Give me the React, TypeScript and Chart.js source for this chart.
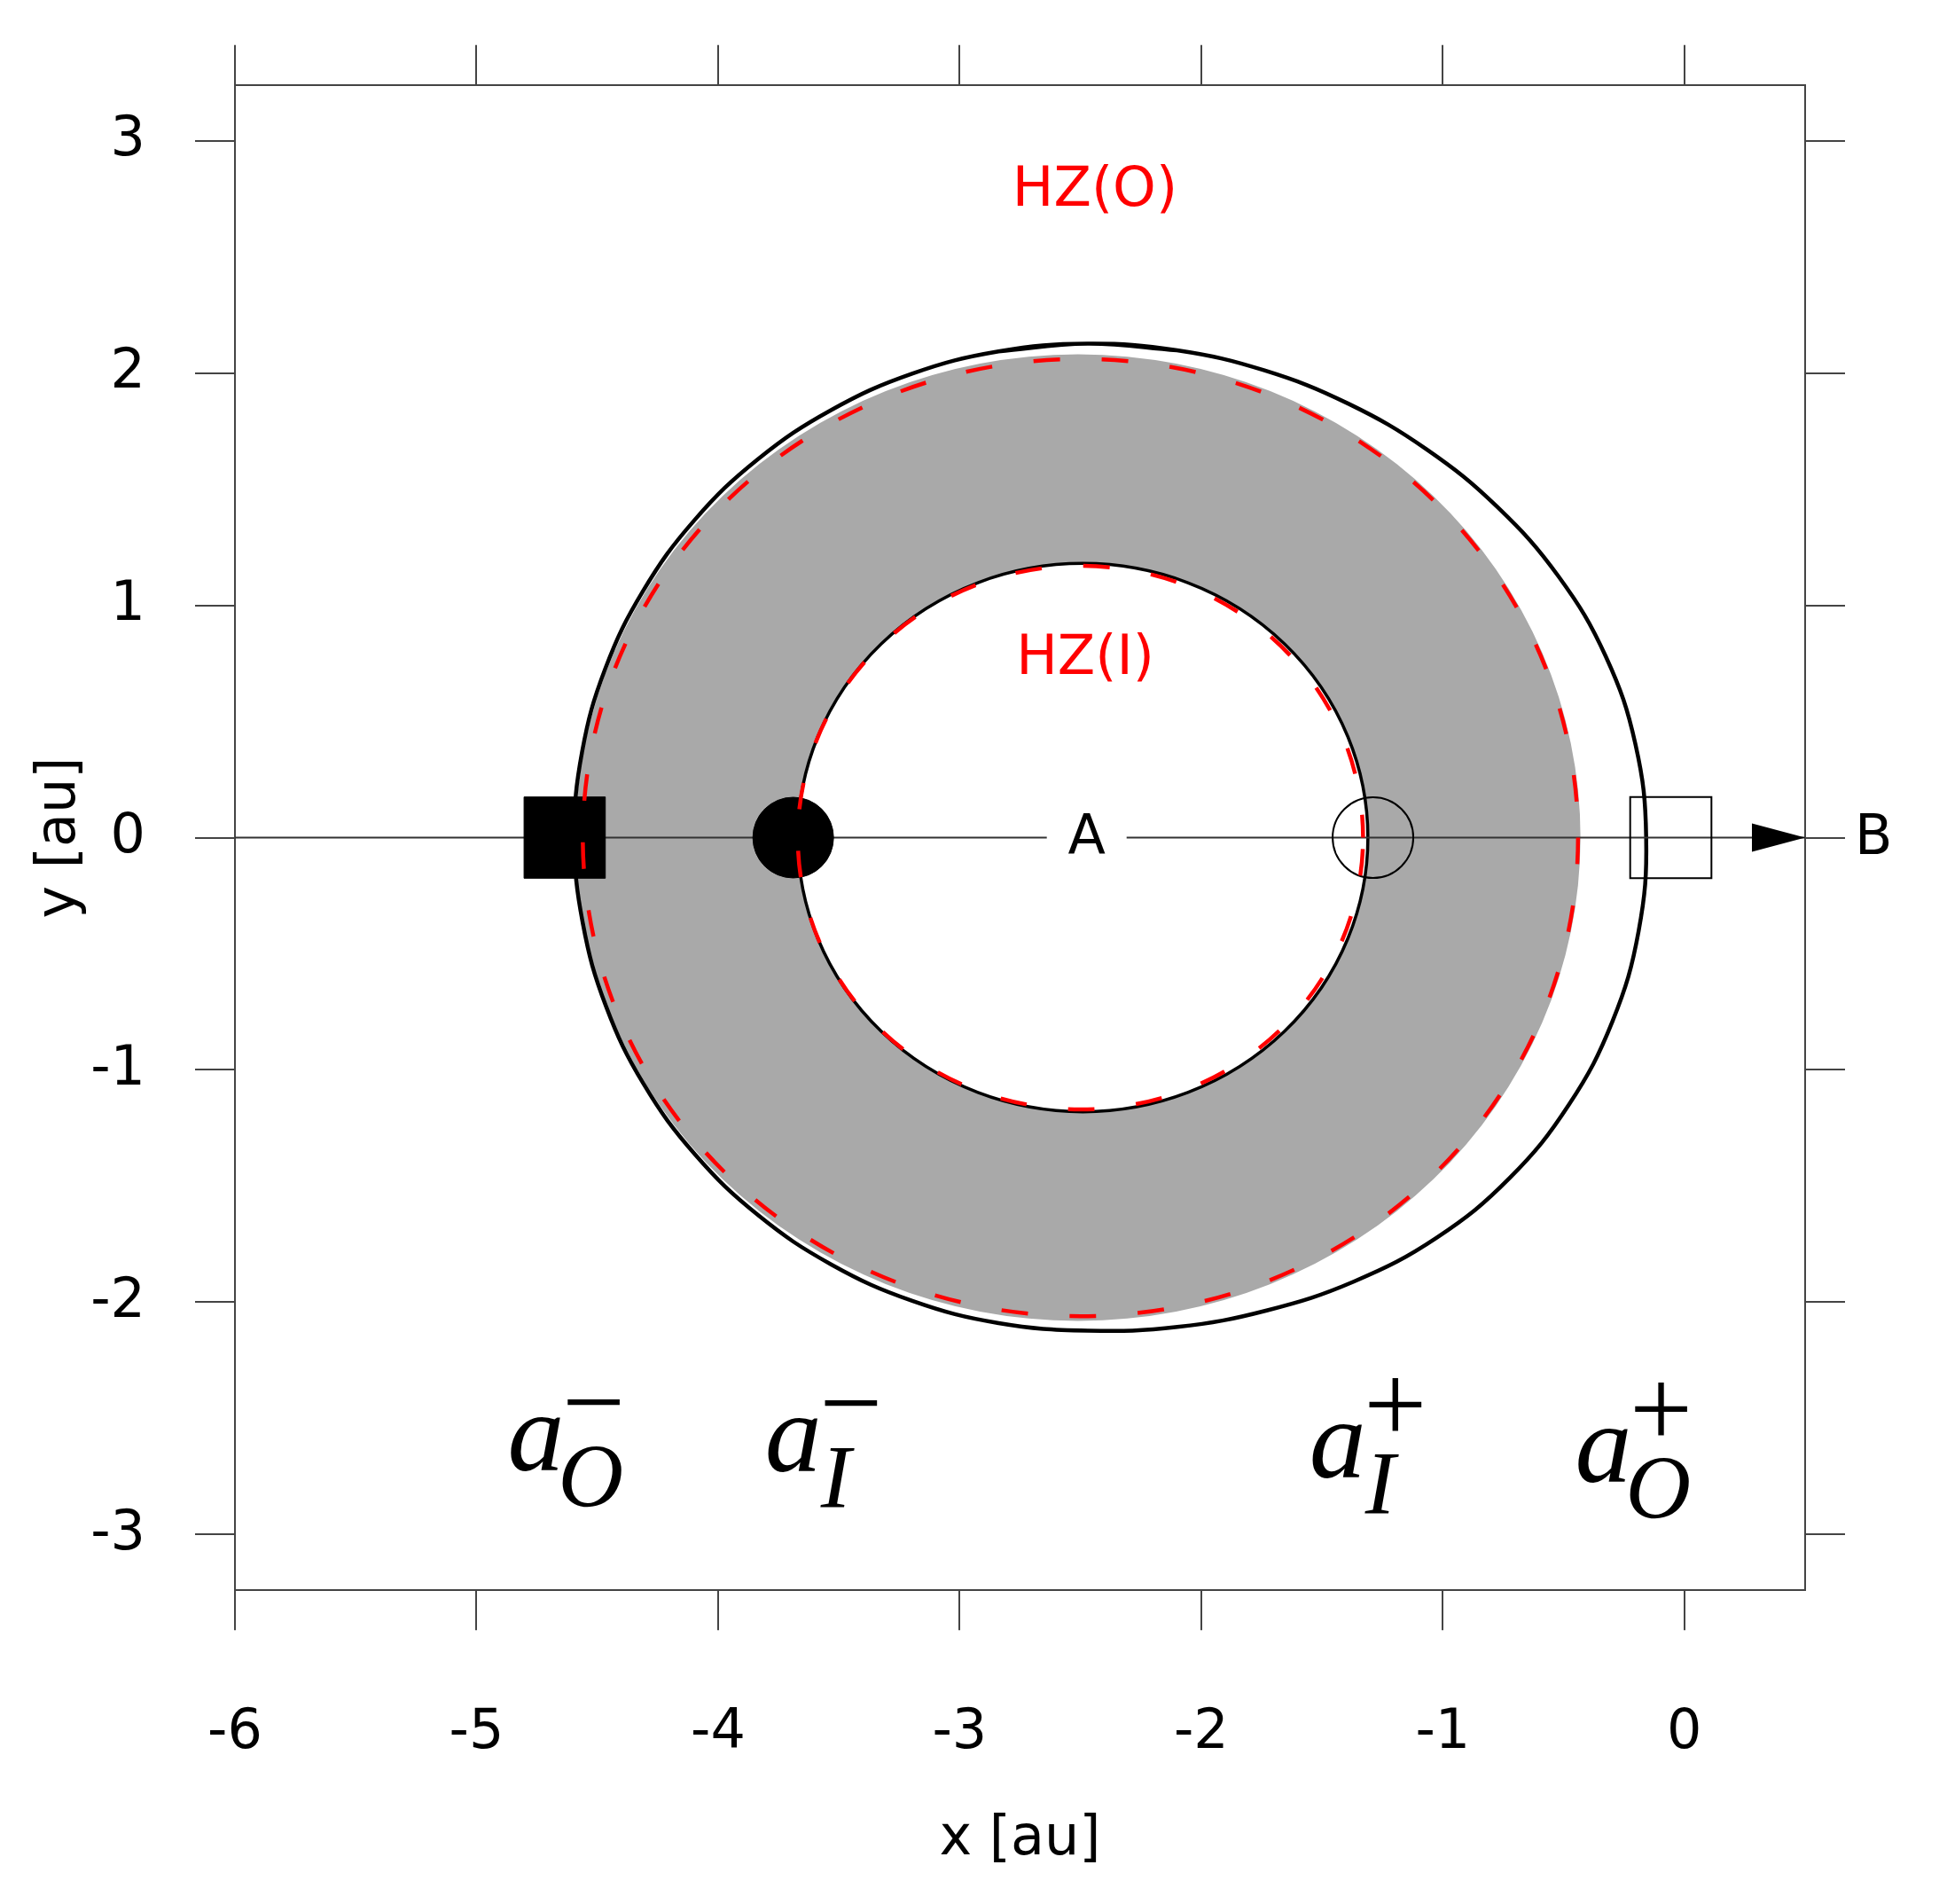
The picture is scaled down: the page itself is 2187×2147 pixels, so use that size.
import React, { useEffect, useRef } from 'react';
import { Chart, registerables } from 'chart.js';

Chart.register(...registerables);

// ---- axis ranges ----
const xRange = [-6, 0.5];
const yRange = [-3.24, 3.24];

// ---- outer stability limit (egg-shaped curve), clockwise; the path overlaps at the top to close smoothly ----
const outerLimitX = [-2.839, -2.47, -2.1001, -1.7381, -1.3915, -1.0674, -0.774, -0.5214, -0.3256, -0.202, -0.158, -0.1892, -0.2974, -0.4781, -0.7234, -1.025, -1.367, -1.7292, -2.0986, -2.47, -2.8385, -3.196, -3.531, -3.834, -4.0955, -4.308, -4.464, -4.56, -4.595, -4.563, -4.467, -4.31, -4.098, -3.836, -3.5325, -3.197, -2.839, -2.47, -2.1001];
const outerLimitY = [2.093, 2.126, 2.0976, 2.0109, 1.868, 1.6715, 1.4231, 1.125, 0.7805, 0.3999, 0, -0.4022, -0.7908, -1.15, -1.4656, -1.7221, -1.9104, -2.0354, -2.1065, -2.122, -2.0898, -1.994, -1.8377, -1.6255, -1.364, -1.061, -0.7258, -0.3685, 0, 0.369, 0.727, 1.0625, 1.366, 1.628, 1.84, 1.997, 2.093, 2.126, 2.0976];

// ---- circles: [centre x, centre y, radius] in au ----
const innerLimitCircle = [-2.49, 0, 1.18];
const hzInnerCircle = [-2.5, 0, 1.17];
const hzOuterCircle = [-2.5, 0, 2.06];
const shadeOuterCircle = [-2.51, 0, 2.08];

// ---- markers on the x axis ----
const markerX = [-4.635, -3.689, -1.289, -0.056];
const markerY = [0, 0, 0, 0];
const markerStyle = ['rect', 'circle', 'circle', 'rect'];
const markerFilled = [true, true, false, false];

// ---- binary axis line A -> B ----
const axisLineX = [-6, 0.5];
const axisLineY = [0, 0];
const starAPos = [-2.474, 0];

// ---- text annotations ----
const zoneText = ['HZ(O)', 'HZ(I)'];
const zoneTextX = [-2.44, -2.48];
const zoneTextY = [2.79, 0.775];

const labelSub = ['O', 'I', 'I', 'O'];
const labelSign = ['\u2212', '\u2212', '+', '+'];
const labelX = [-4.864, -3.799, -1.545, -0.445];
const labelY = [-2.722, -2.726, -2.753, -2.772];

const W = 2171;
const H = 2131;
const FRAME = '#444444';
const TICKFONT = { family: '"DejaVu Sans"', size: 62 };

function ellipseOf(chart: any, c: number[]) {
  const xs = chart.scales.x;
  const ys = chart.scales.y;
  const cx = xs.getPixelForValue(c[0]);
  const cy = ys.getPixelForValue(c[1]);
  const rx = xs.getPixelForValue(c[0] + c[2]) - cx;
  const ry = cy - ys.getPixelForValue(c[1] + c[2]);
  return [cx, cy, rx, ry];
}

const overlayPlugin = {
  id: 'overlay',
  beforeDatasetsDraw(chart: any) {
    const ctx = chart.ctx;
    ctx.save();
    const o = ellipseOf(chart, shadeOuterCircle);
    const i = ellipseOf(chart, innerLimitCircle);
    ctx.beginPath();
    ctx.ellipse(o[0], o[1], o[2], o[3], 0, 0, Math.PI * 2);
    ctx.moveTo(i[0] + i[2], i[1]);
    ctx.ellipse(i[0], i[1], i[2], i[3], 0, 0, Math.PI * 2);
    ctx.fillStyle = '#a9a9a9';
    ctx.fill('evenodd');
    ctx.beginPath();
    ctx.ellipse(i[0], i[1], i[2], i[3], 0, 0, Math.PI * 2);
    ctx.lineWidth = 3.5;
    ctx.strokeStyle = '#000';
    ctx.stroke();
    ctx.restore();
  },
  afterDatasetsDraw(chart: any) {
    const ctx = chart.ctx;
    const xs = chart.scales.x;
    const ys = chart.scales.y;
    ctx.save();
    ctx.strokeStyle = '#ff0000';
    ctx.lineWidth = 4.5;
    ctx.lineCap = 'butt';
    ctx.setLineDash([30, 47]);
    const hi = ellipseOf(chart, hzInnerCircle);
    ctx.lineDashOffset = 64;
    ctx.beginPath();
    ctx.ellipse(hi[0], hi[1], hi[2], hi[3], 0, 0, Math.PI * 2);
    ctx.stroke();
    const ho = ellipseOf(chart, hzOuterCircle);
    ctx.lineDashOffset = 0;
    ctx.beginPath();
    ctx.ellipse(ho[0], ho[1], ho[2], ho[3], 0, 0, Math.PI * 2);
    ctx.stroke();
    ctx.setLineDash([]);

    const ax = xs.getPixelForValue(starAPos[0]);
    const ay = ys.getPixelForValue(starAPos[1]);
    ctx.fillStyle = '#fff';
    ctx.fillRect(ax - 45, ay - 30, 90, 60);
    ctx.fillStyle = '#000';
    ctx.font = '62px "DejaVu Sans"';
    ctx.textAlign = 'center';
    ctx.textBaseline = 'middle';
    ctx.fillText('A', ax, ay + 2);

    const tipX = xs.getPixelForValue(axisLineX[1]);
    const tipY = ys.getPixelForValue(axisLineY[1]);
    ctx.beginPath();
    ctx.moveTo(tipX, tipY);
    ctx.lineTo(tipX - 60, tipY - 16);
    ctx.lineTo(tipX - 60, tipY + 16);
    ctx.closePath();
    ctx.fillStyle = '#000';
    ctx.fill();
    ctx.textAlign = 'left';
    ctx.fillText('B', tipX + 56, tipY + 2);

    ctx.fillStyle = '#ff0000';
    ctx.textAlign = 'center';
    for (let k = 0; k < zoneText.length; k++) {
      ctx.fillText(zoneText[k], xs.getPixelForValue(zoneTextX[k]), ys.getPixelForValue(zoneTextY[k]) + 2);
    }

    ctx.fillStyle = '#000';
    ctx.textBaseline = 'alphabetic';
    for (let k = 0; k < labelSub.length; k++) {
      const px = xs.getPixelForValue(labelX[k]);
      const py = ys.getPixelForValue(labelY[k]);
      ctx.textAlign = 'left';
      ctx.font = 'italic 128px "Liberation Serif"';
      ctx.fillText('a', px - 2, py);
      ctx.font = 'italic 102px "Liberation Serif"';
      ctx.fillText(labelSub[k], px + 61 - (labelSub[k] === 'O' ? 6 : 0), py + 41);
      ctx.font = '126px "Liberation Serif"';
      ctx.textAlign = 'center';
      ctx.fillText(labelSign[k], px + 95, py - 76 + (labelSign[k] === '+' ? 36 : 41));
    }
    ctx.restore();
  },
};

export default function App() {
  const ref = useRef<HTMLCanvasElement>(null);
  useEffect(() => {
    if (!ref.current) return;
    const gridOpts = {
      display: true,
      drawOnChartArea: false,
      drawTicks: true,
      tickLength: 45,
      color: FRAME,
      lineWidth: 2,
    };
    const borderOpts = { display: true, color: FRAME, width: 2 };
    const noPad = (s: any) => { s.paddingTop = 0; s.paddingBottom = 0; s.paddingLeft = 0; s.paddingRight = 0; };
    const chart = new Chart(ref.current, {
      type: 'scatter',
      data: {
        datasets: [
          {
            label: 'markers',
            data: markerX.map((v, k) => ({ x: v, y: markerY[k] })),
            pointStyle: markerStyle as any,
            pointRadius: markerStyle.map((s) => (s === 'rect' ? 64.8 : 45.5)),
            pointBackgroundColor: markerFilled.map((f) => (f ? '#000' : 'rgba(0,0,0,0)')),
            pointBorderColor: '#000',
            pointBorderWidth: markerFilled.map((f) => (f ? 1 : 2)),
            showLine: false,
            order: 0,
          } as any,
          {
            label: 'axis',
            data: axisLineX.map((v, k) => ({ x: v, y: axisLineY[k] })),
            showLine: true,
            borderColor: '#333',
            borderWidth: 2,
            pointRadius: 0,
            order: 1,
          },
          {
            label: 'outer limit',
            data: outerLimitX.map((v, k) => ({ x: v, y: outerLimitY[k] })),
            showLine: true,
            borderColor: '#000',
            borderWidth: 4.5,
            pointRadius: 0,
            tension: 0.4,
            fill: false,
            order: 2,
          },
        ],
      },
      options: {
        responsive: false,
        animation: false,
        devicePixelRatio: 1,
        layout: { padding: 0 },
        plugins: { legend: { display: false }, tooltip: { enabled: false } },
        scales: {
          x: {
            type: 'linear',
            position: 'bottom',
            min: xRange[0],
            max: xRange[1],
            grid: gridOpts,
            border: borderOpts,
            ticks: { stepSize: 1, includeBounds: false, font: TICKFONT, color: '#000', padding: 79, maxRotation: 0 },
            title: { display: true, text: 'x [au]', font: TICKFONT, color: '#000', padding: { top: 0, bottom: 27 } },
            afterFit: (s: any) => { s.height = H - 1785.3; noPad(s); },
          },
          x2: {
            type: 'linear',
            position: 'top',
            min: xRange[0],
            max: xRange[1],
            grid: gridOpts,
            border: borderOpts,
            ticks: { stepSize: 1, includeBounds: false, display: false },
            afterFit: (s: any) => { s.height = 87.7; noPad(s); },
          },
          y: {
            type: 'linear',
            position: 'left',
            min: yRange[0],
            max: yRange[1],
            grid: gridOpts,
            border: borderOpts,
            ticks: { stepSize: 1, includeBounds: false, font: TICKFONT, color: '#000', padding: 56 },
            title: { display: true, text: 'y [au]', font: TICKFONT, color: '#000', padding: { top: 22.8, bottom: 0 } },
            afterFit: (s: any) => { s.width = 257; noPad(s); },
          },
          y2: {
            type: 'linear',
            position: 'right',
            min: yRange[0],
            max: yRange[1],
            grid: gridOpts,
            border: borderOpts,
            ticks: { stepSize: 1, includeBounds: false, display: false },
            afterFit: (s: any) => { s.width = W - 2028; noPad(s); },
          },
        },
      } as any,
      plugins: [overlayPlugin],
    });
    return () => chart.destroy();
  }, []);
  return (
    <div style={{ width: W, height: H }}>
      <canvas ref={ref} width={W} height={H} style={{ display: 'block', width: W, height: H }} />
    </div>
  );
}
